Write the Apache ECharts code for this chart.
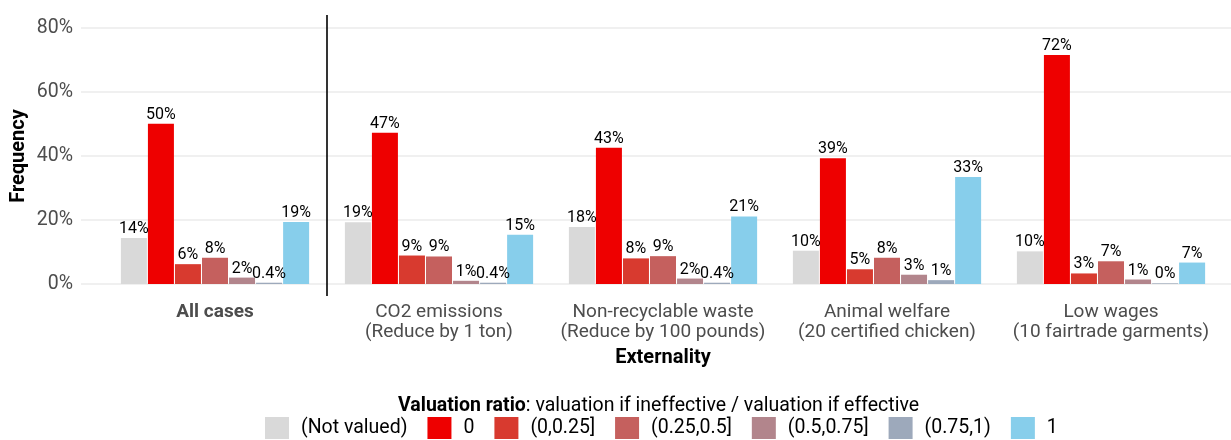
<!DOCTYPE html>
<html>
<head>
<meta charset="utf-8">
<script src="https://cdn.jsdelivr.net/npm/echarts@6/dist/echarts.min.js"></script>
<style>
html,body{margin:0;padding:0;background:#fff;}
#c{width:1231px;height:440px;}
</style>
</head>
<body>
<div id="c"></div>
<script>
const categories = ['All cases', 'CO2 emissions\n(Reduce by 1 ton)', 'Non-recyclable waste\n(Reduce by 100 pounds)', 'Animal welfare\n(20 certified chicken)', 'Low wages\n(10 fairtrade garments)'];
const seriesNames = ['(Not valued)', '0', '(0,0.25]', '(0.25,0.5]', '(0.5,0.75]', '(0.75,1)', '1'];
const notValued = [14.4, 19.3, 17.8, 10.4, 10.2];
const zero = [50.1, 47.3, 42.6, 39.3, 71.6];
const r0_025 = [6.2, 8.9, 8.0, 4.6, 3.3];
const r025_05 = [8.2, 8.6, 8.7, 8.2, 7.1];
const r05_075 = [2.0, 1.0, 1.7, 2.9, 1.4];
const r075_1 = [0.4, 0.4, 0.4, 1.2, 0.2];
const one = [19.4, 15.4, 21.1, 33.4, 6.7];
const yTicks = [0, 20, 40, 60, 80];
const dividerAt = 1;

const colors = ['#d9d9d9', '#ee0000', '#d83a2f', '#c5605e', '#b2858c', '#9da9bb', '#87ceeb'];
const values = [notValued, zero, r0_025, r025_05, r05_075, r075_1, one];
const FONT = "Roboto, 'Noto Sans', sans-serif";

function fmt(v) {
  if (v >= 0.3 && v < 1) return v.toFixed(1) + '%';
  return Math.round(v) + '%';
}

const barSeries = seriesNames.map((n, i) => ({
  name: n,
  type: 'bar',
  xAxisIndex: 1,
  yAxisIndex: 1,
  data: values[i],
  barWidth: 26,
  barGap: '4%',
  itemStyle: { color: colors[i] },
  label: {
    show: true, position: 'top', distance: 1,
    fontFamily: FONT, fontSize: 16, color: '#000',
    formatter: p => fmt(p.value)
  }
}));

const chart = echarts.init(document.getElementById('c'));
chart.setOption({
  animation: false,
  textStyle: { fontFamily: FONT },
  grid: [
    { left: 81, right: 0, top: 28, height: 256 },
    { left: 103, width: 1120, top: 28, height: 256 },
    { left: 103, width: 1120, top: 15, height: 281 }
  ],
  title: {
    text: '{b|Valuation ratio}: valuation if ineffective / valuation if effective',
    left: 398, top: 396, padding: 0,
    textStyle: {
      fontFamily: FONT, fontSize: 19.5, fontWeight: 'normal', color: '#000',
      rich: { b: { fontFamily: FONT, fontSize: 19.5, fontWeight: 'bold', color: '#000' } }
    }
  },
  legend: {
    data: seriesNames,
    top: 417, left: 265, padding: 0,
    itemWidth: 24, itemHeight: 22, itemGap: 20,
    icon: 'rect',
    textStyle: { fontFamily: FONT, fontSize: 19.5, color: '#000', padding: [0, 0, 0, 7] }
  },
  xAxis: [
    { gridIndex: 0, type: 'value', min: 0, max: 1, show: false },
    {
      gridIndex: 1, type: 'category', data: categories,
      axisLine: { show: false }, axisTick: { show: false },
      axisLabel: {
        interval: 0, hideOverlap: false,
        margin: 18, fontFamily: FONT, fontSize: 19, color: '#4d4d4d', lineHeight: 20,
        formatter: (v, i) => i === 0 ? '{b|' + v + '}' : v,
        rich: { b: { fontFamily: FONT, fontSize: 19, fontWeight: 'bold', color: '#4d4d4d' } }
      },
      name: 'Externality', nameLocation: 'middle', nameGap: 64,
      nameTextStyle: { fontFamily: FONT, fontSize: 20, fontWeight: 'bold', color: '#000' }
    },
    { gridIndex: 2, type: 'value', min: 0, max: categories.length, show: false }
  ],
  yAxis: [
    {
      gridIndex: 0, type: 'value', min: 0, max: 80, interval: 20,
      axisLine: { show: false }, axisTick: { show: false },
      splitLine: { lineStyle: { color: '#ebebeb', width: 1.5 } },
      axisLabel: { margin: 8, fontFamily: FONT, fontSize: 19.5, color: '#4d4d4d', formatter: '{value}%' }
    },
    {
      gridIndex: 1, type: 'value', min: 0, max: 80, interval: 20,
      axisLine: { show: false }, axisTick: { show: false }, splitLine: { show: false },
      axisLabel: { show: false },
      name: 'Frequency', nameLocation: 'middle', nameGap: 74, nameRotate: 90,
      nameTextStyle: { fontFamily: FONT, fontSize: 20, fontWeight: 'bold', color: '#000' }
    },
    { gridIndex: 2, type: 'value', min: 0, max: 1, show: false }
  ],
  series: barSeries.concat([{
    type: 'line', xAxisIndex: 2, yAxisIndex: 2,
    data: [[dividerAt, 0], [dividerAt, 1]],
    symbol: 'none', silent: true,
    lineStyle: { color: '#000', width: 1.6 }
  }])
});
</script>
</body>
</html>
